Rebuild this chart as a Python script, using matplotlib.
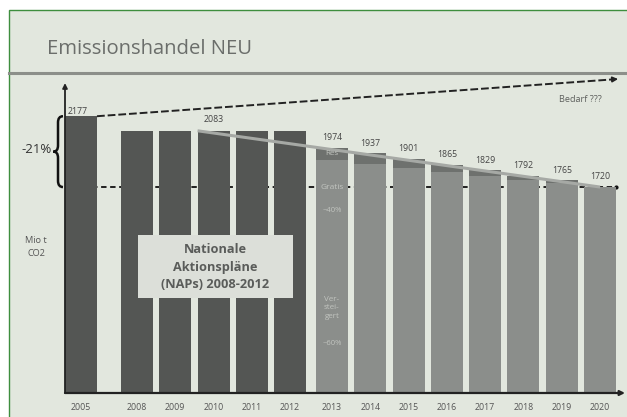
import numpy as np
import matplotlib.pyplot as plt
from matplotlib.lines import Line2D
from matplotlib.patches import Rectangle, PathPatch
from matplotlib.path import Path

plt.rcParams['font.family'] = ['Open Sans', 'DejaVu Sans']

W, H = 627, 417


def fx(x):
    return x / W


def fy(y):
    return 1 - y / H


# data (Mio t CO2)
nap_years = [2005, 2008, 2009, 2010, 2011, 2012]
nap_values = [2177, 2083, 2083, 2083, 2083, 2083]
ets_years = [2013, 2014, 2015, 2016, 2017, 2018, 2019, 2020]
ets_values = [1974, 1937, 1901, 1865, 1829, 1792, 1765, 1720]
reserve = [80, 70, 58, 46, 38, 26, 18, 0]
target_2020 = 1720          # -21% vs 2005
bedarf_end = 2417           # "Bedarf ???" arrow end

BG = '#e2e7de'
DARK = '#545654'
LIGHT = '#8b8e8b'
RES = '#6e716e'
TXT = '#444444'

# bar positions: gap after 2005 and a small gap after 2012
width = 0.835


def xpos(y):
    if y == 2005:
        return 0.0
    if y <= 2012:
        return 1.46 + (y - 2008)
    return 6.55 + (y - 2013)


nap_x = [xpos(y) for y in nap_years]
ets_x = [xpos(y) for y in ets_years]

fig = plt.figure(figsize=(6.27, 4.17), dpi=100)
fig.patch.set_facecolor('white')
fig.patches.append(Rectangle((fx(9), -0.1), 1, fy(10) + 0.1, transform=fig.transFigure,
                             facecolor=BG, edgecolor='#3e8e3e', lw=1.0, zorder=-2))
fig.add_artist(Line2D([fx(9), 1], [fy(73), fy(73)], color='#8c8f8a', lw=2.2, zorder=-1))
fig.text(fx(47), fy(49), 'Emissionshandel NEU', fontsize=14.6, color='#6b6e6b',
         va='center', ha='left')

ax = fig.add_axes([fx(65), fy(393), (625 - 65) / W, (393 - 75) / H])
ax.set_facecolor('none')
ax.set_xlim(-width / 2, 14.2)
ax.set_ylim(391, 2443)
for s in ax.spines.values():
    s.set_visible(False)
ax.set_yticks([])

# bars
ax.bar(nap_x, nap_values, width, color=DARK, zorder=3)
ax.bar(ets_x, ets_values, width, color=RES, zorder=3)
ax.bar(ets_x, np.array(ets_values) - np.array(reserve), width, color=LIGHT, zorder=3)

# -21% dashed target line
ax.plot([-width / 2, ets_x[-1] + width / 2], [target_2020, target_2020], color='#111111',
        lw=1.3, ls=(0, (3, 2)), zorder=2)
ax.plot([ets_x[-1] + width / 2], [target_2020], 'o', color='#111111', ms=2, zorder=2)

# trend line over the bar tops
ax.plot([nap_x[3] - width / 2, ets_x[-1]], [nap_values[3], target_2020], color='#a6a9a5',
        lw=2.2, zorder=4, solid_capstyle='butt')

# Bedarf arrow (dashed line + head)
bx0, bx1 = width / 2, 13.85
ax.plot([bx0, bx1], [nap_values[0], bedarf_end - 3], color='#222222', lw=1.4,
        ls=(0, (4, 1.5)), zorder=5)
ax.annotate('', xy=(14.02, bedarf_end), xytext=(bx1, bedarf_end - 3),
            arrowprops=dict(arrowstyle='-|>', color='#222222', lw=1.2,
                            mutation_scale=8, shrinkA=0, shrinkB=0), zorder=5)
fig.text(fx(580), fy(99), 'Bedarf ???', fontsize=6.6, color='#5e605e', ha='center', va='center')

# axes arrows
ax.annotate('', xy=(-width / 2, 2391), xytext=(-width / 2, 391),
            arrowprops=dict(arrowstyle='-|>', color='#222222', lw=1.3, mutation_scale=7,
                            shrinkA=0, shrinkB=0), annotation_clip=False, zorder=6)
ax.annotate('', xy=(14.2, 391), xytext=(-width / 2, 391),
            arrowprops=dict(arrowstyle='-|>', color='#222222', lw=1.6, mutation_scale=7,
                            shrinkA=0, shrinkB=0), annotation_clip=False, zorder=6)

# year labels
ax.set_xticks(nap_x + ets_x, [str(y) for y in nap_years + ets_years])
ax.tick_params(axis='x', length=0, pad=7, labelsize=6.3, labelcolor='#555555')

# value labels
ax.text(-width / 2 + 0.08, nap_values[0], str(nap_values[0]), fontsize=6.3, color=TXT,
        ha='left', va='bottom', zorder=6)
ax.annotate(str(nap_values[3]), (nap_x[3], nap_values[3]), xytext=(0, 5),
            textcoords='offset points', ha='center', va='bottom', fontsize=6.3, color=TXT)
for x, v in zip(ets_x, ets_values):
    ax.annotate(str(v), (x, v), xytext=(0, 4), textcoords='offset points',
                ha='center', va='bottom', fontsize=6.3, color=TXT)

# text inside the 2013 bar
inner = '#c2c5c0'
x13 = ets_x[0]
ax.text(x13, ets_values[0] - reserve[0] / 2, 'Res', fontsize=5.8, color=inner,
        ha='center', va='center', zorder=5)
ax.text(x13, target_2020 - 5, 'Gratis', fontsize=6, color=inner, ha='center', va='center',
        zorder=5)
ax.text(x13, 1570, '~40%', fontsize=5.5, color=inner, ha='center', va='center', zorder=5)
ax.text(x13, 940, 'Ver-\nstei-\ngert', fontsize=5.8, color=inner, ha='center', va='center',
        linespacing=1.3, zorder=5)
ax.text(x13, 710, '~60%', fontsize=5.5, color=inner, ha='center', va='center', zorder=5)

# curly brace for -21%
top, bot = nap_values[0], target_2020
mid = (top + bot) / 2
xr, xs, xl = -0.47, -0.60, -0.72
d = 40
verts = [(xr, top), (xs, top), (xs, top - d),
         (xs, mid + d), (xs, mid), (xl, mid),
         (xs, mid), (xs, mid - d),
         (xs, bot + d), (xs, bot), (xr, bot)]
codes = [Path.MOVETO, Path.CURVE3, Path.CURVE3,
         Path.LINETO, Path.CURVE3, Path.CURVE3,
         Path.CURVE3, Path.CURVE3,
         Path.LINETO, Path.CURVE3, Path.CURVE3]
ax.add_patch(PathPatch(Path(verts, codes), fill=False, lw=1.8, edgecolor='#111111',
                       clip_on=False, zorder=6))
ax.text(xl - 0.05, mid + 15, '-21%', fontsize=9.5, color='#333333', ha='right', va='center')

fig.text(fx(36), fy(247), 'Mio t\nCO2', fontsize=6.6, color='#555555', ha='center',
         va='center', linespacing=1.5)

# NAP box
fig.patches.append(Rectangle((fx(138), fy(298)), (293 - 138) / W, (298 - 235) / H,
                             transform=fig.transFigure, facecolor='#dcdfd9',
                             edgecolor='none', zorder=10))
fig.text(fx(215), fy(267), 'Nationale\nAktionspläne\n(NAPs) 2008-2012', fontsize=9.2,
         fontweight='bold', color='#5a5c5a', ha='center', va='center', linespacing=1.45,
         zorder=11)

fig.savefig('out.png', dpi=100)
